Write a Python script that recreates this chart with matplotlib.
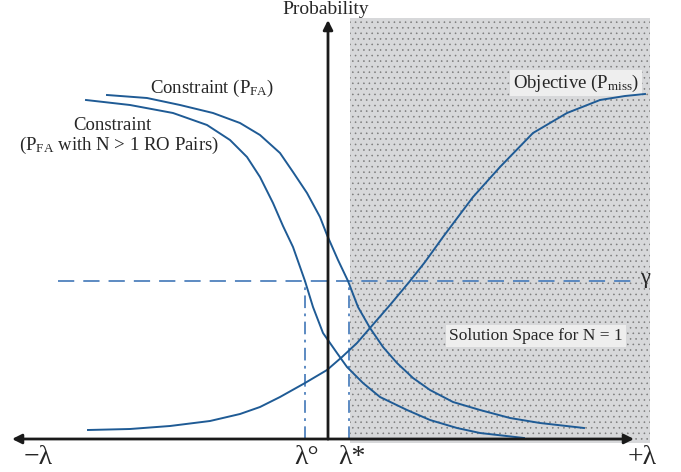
import numpy as np
import matplotlib
matplotlib.use('Agg')
import matplotlib.pyplot as plt
from matplotlib.patches import Rectangle

plt.rcParams['font.family'] = ['Liberation Serif', 'DejaVu Serif']
plt.rcParams['mathtext.fontset'] = 'custom'
plt.rcParams['mathtext.rm'] = 'Liberation Serif'
plt.rcParams['mathtext.it'] = 'Liberation Serif:italic'
plt.rcParams['hatch.color'] = '#7a7a7a'
plt.rcParams['hatch.linewidth'] = 0.4

# curves: x position along lambda axis, height = probability (schematic units)
pfa_x = [107, 147, 180, 213, 240, 260, 280, 293, 307, 320, 327, 338, 348, 358, 370, 383,
         397, 413, 430, 453, 480, 510, 540, 584]
pfa_y = [344, 341, 334, 326, 316, 304, 286, 267, 246, 222, 204, 179, 158, 132, 111, 92,
         76, 61, 49, 37, 29, 21, 16, 11]

pfa_n_x = [86, 130, 173, 207, 230, 247, 260, 273, 283, 293, 305, 313, 323, 337, 347, 363,
           380, 407, 430, 457, 480, 524]
pfa_n_y = [339, 334, 326, 314, 299, 282, 262, 236, 213, 192, 158, 132, 106, 86, 72, 56,
           42, 29, 19, 11, 6, 1]

miss_x = [88, 130, 170, 210, 240, 260, 280, 305, 327, 342, 357, 370, 390, 410, 425, 443,
          473, 500, 533, 567, 600, 625, 645]
miss_y = [9, 10, 13, 18, 25, 32, 42, 56, 69, 82, 96, 111, 134, 158, 177, 202,
          242, 272, 306, 326, 339, 343, 345]

gamma = 158
lam_circ = 305
lam_star = 349
origin = 328

curve_col = '#1f5b95'
ref_col = '#4f81bd'

fig = plt.figure(figsize=(6.81, 4.72), dpi=100)
ax = fig.add_axes([0, 0, 1, 1])
ax.set_xlim(0, 681)
ax.set_ylim(-33, 439)
ax.axis('off')

# solution space (shaded, dotted)
ax.add_patch(Rectangle((lam_star + 1, -4), 650 - lam_star - 1, 425,
                       facecolor='#d7d8da', edgecolor='none', zorder=0))
ax.add_patch(Rectangle((lam_star + 1, -4), 650 - lam_star - 1, 425,
                       facecolor='none', edgecolor='#7a7a7a', linewidth=0,
                       hatch='...', zorder=0.5))

# axes arrows
arrow = dict(arrowstyle='-|>', lw=2, color='#1a1a1a', mutation_scale=14, shrinkA=0, shrinkB=0)
ax.annotate('', xy=(12, 0), xytext=(origin, 0), arrowprops=arrow, zorder=5)
ax.annotate('', xy=(634, 0), xytext=(origin, 0), arrowprops=arrow, zorder=5)
ax.annotate('', xy=(origin, 419), xytext=(origin, 0), arrowprops=arrow, zorder=5)

# threshold lines
ax.plot([58, 632], [gamma, gamma], color=ref_col, lw=1.3, linestyle=(0, (9, 5)), zorder=2)
ax.plot([lam_circ, lam_circ], [0, gamma], color=ref_col, lw=1.3,
        linestyle=(0, (7, 3, 1.5, 3)), zorder=2)
ax.plot([lam_star, lam_star], [0, gamma], color=ref_col, lw=1.3,
        linestyle=(0, (7, 3, 1.5, 3)), zorder=2)

# curves
ax.plot(pfa_x, pfa_y, color=curve_col, lw=1.4, zorder=3, solid_joinstyle='round')
ax.plot(pfa_n_x, pfa_n_y, color=curve_col, lw=1.4, zorder=3, solid_joinstyle='round')
ax.plot(miss_x, miss_y, color=curve_col, lw=1.4, zorder=3, solid_joinstyle='round')

txt = '#262626'
box = dict(facecolor='#eeeeee', edgecolor='none', pad=2)
ax.text(326, 430, 'Probability', ha='center', va='center', fontsize=14, color=txt)
ax.text(212, 351, r'Constraint (P$_{\rm FA}$)', ha='center', va='center', fontsize=13.5, color=txt)
ax.text(112, 314, 'Constraint', ha='center', va='center', fontsize=13.5, color=txt)
ax.text(119, 294, r'(P$_{\rm FA}$ with N > 1 RO Pairs)', ha='center', va='center',
        fontsize=13.5, color=txt)
ax.text(576, 356, r'Objective (P$_{\rm miss}$)', ha='center', va='center', fontsize=13.5,
        color=txt, bbox=box, zorder=2.5)
ax.text(536, 103, 'Solution Space for N = 1', ha='center', va='center', fontsize=12.5,
        color=txt, bbox=box, zorder=2.5)
ax.text(645, gamma + 2, 'γ', ha='center', va='center', fontsize=16, color=txt)

ax.text(38, -18, '−λ', ha='center', va='center', fontsize=20, color=txt)
ax.text(307, -18, 'λ°', ha='center', va='center', fontsize=20, color=txt)
ax.text(352, -18, 'λ*', ha='center', va='center', fontsize=20, color=txt)
ax.text(642, -18, '+λ', ha='center', va='center', fontsize=20, color=txt)

fig.savefig('out.png', dpi=100)
